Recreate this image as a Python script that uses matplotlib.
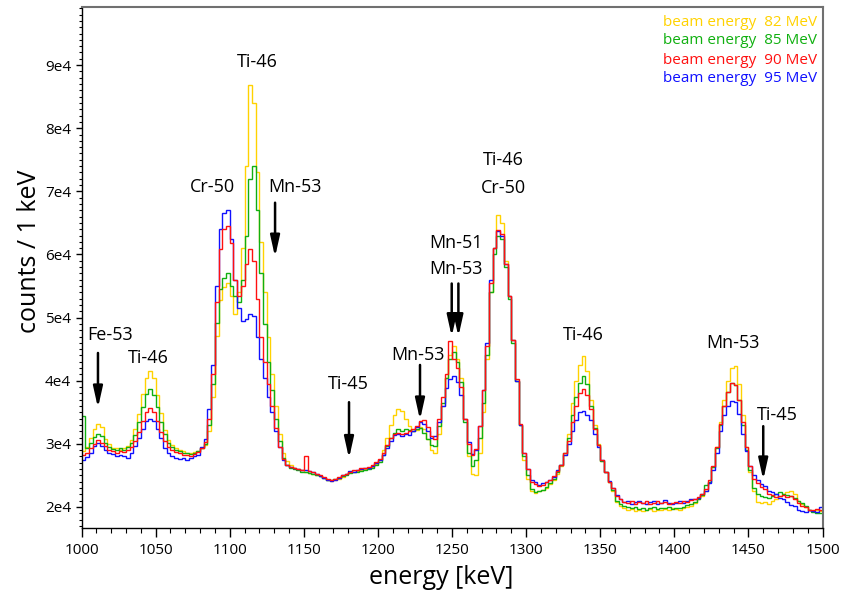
import numpy as np
import matplotlib
matplotlib.use("Agg")
import matplotlib.pyplot as plt
from matplotlib.ticker import MultipleLocator, FuncFormatter

plt.rcParams['font.family'] = ['Open Sans', 'DejaVu Sans']

# gamma spectra, 2.5 keV bins from 1000 to 1500 keV, counts in units of 1e3
bin_lo, bin_hi, bin_w = 1000, 1500, 2.5

counts_82 = [
    28.8, 29.5, 31.0, 32.4, 33.1, 32.6, 30.8, 29.9, 29.4, 29.3, 29.1, 29.4, 29.7, 30.6, 32.3, 34.8,
    37.9, 40.5, 41.5, 40.4, 37.8, 34.9, 32.2, 30.6, 29.8, 29.3, 29.0, 28.8, 28.6, 28.5, 28.7, 28.9,
    29.3, 29.8, 32.0, 37.5, 47.1, 52.8, 54.8, 55.5, 53.5, 50.5, 54.0, 61.0, 74.0, 86.8, 84.0, 73.0,
    62.0, 54.0, 47.0, 41.0, 36.0, 31.5, 28.5, 27.3, 26.6, 26.2, 26.0, 25.8, 25.6, 25.4, 25.2, 25.1,
    24.9, 24.6, 24.2, 24.1, 24.3, 24.5, 24.8, 25.2, 25.5, 25.5, 25.7, 25.8, 26.0, 26.1, 26.3, 26.8,
    27.5, 29.0, 31.0, 33.0, 34.5, 35.6, 35.2, 34.0, 32.8, 32.0, 32.2, 32.6, 32.3, 30.8, 29.0, 28.6,
    31.5, 36.0, 40.5, 44.0, 45.5, 43.5, 40.5, 34.0, 28.0, 25.3, 25.0, 28.5, 35.0, 43.5, 54.0, 61.0,
    66.3, 65.0, 59.0, 53.5, 46.5, 40.0, 33.0, 27.5, 24.5, 22.5, 22.2, 22.5, 22.7, 23.0, 23.6, 24.3,
    25.3, 26.5, 28.3, 31.5, 36.5, 40.0, 42.5, 43.9, 41.5, 37.0, 33.0, 30.0, 27.3, 25.5, 24.0, 22.5,
    20.8, 20.2, 19.8, 19.5, 19.7, 19.4, 19.6, 19.3, 19.5, 19.7, 19.4, 19.6, 19.5, 19.7, 19.6, 19.8,
    19.7, 19.5, 19.8, 20.0, 20.2, 20.6, 21.2, 21.8, 22.6, 24.0, 26.3, 29.5, 33.5, 37.0, 40.0, 42.0,
    42.3, 39.5, 34.5, 29.5, 25.5, 22.5, 20.8, 20.6, 20.8, 20.5, 20.9, 21.3, 21.8, 22.0, 22.4, 22.6,
    22.0, 21.0, 20.5, 20.0, 19.6, 19.4, 19.5, 19.4,
]

counts_85 = [
    34.4, 29.3, 30.2, 31.1, 31.6, 31.2, 30.1, 29.5, 29.2, 29.1, 29.3, 29.1, 29.5, 30.1, 31.4, 33.4,
    35.9, 37.9, 38.7, 37.8, 35.8, 33.5, 31.5, 30.2, 29.5, 29.1, 28.9, 28.6, 28.5, 28.4, 28.6, 28.9,
    29.4, 30.0, 33.0, 39.5, 49.2, 54.5, 56.2, 57.0, 55.0, 53.5, 52.4, 56.0, 63.0, 72.0, 74.0, 67.0,
    57.0, 49.0, 43.0, 38.5, 34.0, 30.5, 27.8, 26.6, 26.2, 26.0, 25.8, 25.6, 25.5, 25.4, 25.3, 25.1,
    24.9, 24.6, 24.3, 24.2, 24.4, 24.6, 24.9, 25.1, 25.4, 25.5, 25.6, 25.7, 25.9, 26.0, 26.2, 26.6,
    27.2, 28.3, 29.7, 31.0, 31.8, 32.3, 32.0, 32.4, 32.2, 32.0, 32.3, 32.5, 31.8, 30.8, 29.8, 29.6,
    32.8, 36.5, 40.5, 43.5, 44.5, 43.0, 39.8, 33.5, 28.5, 26.5, 27.5, 31.0, 36.5, 44.0, 54.0, 60.0,
    62.9, 62.5, 58.0, 53.0, 46.0, 40.0, 33.0, 28.0, 25.0, 22.8, 22.3, 22.5, 22.7, 23.2, 23.8, 24.4,
    25.5, 26.6, 28.5, 31.0, 34.5, 37.5, 39.7, 40.7, 39.5, 36.0, 32.5, 29.8, 27.3, 25.5, 24.0, 22.7,
    21.0, 20.5, 20.2, 20.0, 19.8, 20.0, 19.7, 19.9, 19.6, 19.8, 20.0, 19.7, 19.9, 19.8, 20.0, 19.7,
    19.9, 19.8, 20.0, 20.3, 20.5, 20.8, 21.3, 21.9, 23.5, 24.0, 26.3, 29.3, 33.0, 36.0, 38.2, 39.6,
    39.4, 37.0, 33.0, 29.0, 25.8, 23.0, 22.0, 21.7, 21.6, 21.5, 21.7, 22.0, 22.3, 22.1, 21.9, 21.8,
    21.5, 21.0, 20.6, 20.1, 19.6, 19.2, 19.1, 19.0,
]

counts_90 = [
    28.2, 28.6, 29.3, 30.0, 30.6, 30.2, 29.6, 29.0, 28.9, 28.6, 28.8, 28.7, 29.0, 29.5, 30.5, 31.9,
    33.6, 35.1, 35.7, 35.0, 33.7, 31.9, 30.4, 29.5, 29.0, 28.7, 28.5, 28.2, 28.3, 28.1, 28.4, 28.7,
    29.3, 30.3, 34.0, 41.0, 52.4, 60.8, 64.0, 64.5, 61.8, 56.0, 53.4, 55.0, 58.5, 60.8, 59.0, 53.0,
    47.0, 43.0, 39.5, 36.0, 32.5, 29.5, 27.6, 26.7, 26.3, 26.1, 26.0, 25.9, 28.0, 25.7, 25.5, 25.3,
    25.0, 24.7, 24.4, 24.3, 24.4, 24.7, 25.1, 25.2, 25.6, 25.8, 25.8, 26.1, 26.2, 26.4, 26.6, 27.1,
    27.6, 28.5, 29.8, 30.9, 31.5, 31.8, 31.6, 31.8, 32.0, 32.3, 32.8, 33.6, 33.8, 32.6, 31.3, 30.8,
    34.0, 37.5, 41.0, 46.3, 43.4, 42.0, 39.0, 34.0, 30.0, 28.3, 29.2, 32.8, 38.5, 45.5, 55.5, 61.0,
    63.9, 63.3, 58.5, 53.5, 46.5, 40.2, 33.2, 28.6, 26.0, 24.0, 23.7, 23.4, 23.5, 23.9, 24.3, 24.9,
    25.7, 26.7, 28.5, 30.5, 33.5, 36.0, 38.0, 38.7, 37.8, 35.5, 32.3, 29.8, 27.5, 25.6, 24.0, 23.0,
    21.8, 21.3, 20.8, 20.6, 20.9, 20.5, 20.8, 20.6, 20.9, 20.5, 20.7, 21.0, 20.6, 20.8, 20.5, 20.7,
    20.8, 20.6, 21.0, 20.8, 21.1, 21.3, 21.6, 22.1, 22.8, 24.2, 26.5, 29.5, 33.2, 36.0, 38.2, 39.6,
    39.3, 37.0, 33.5, 29.5, 26.5, 24.4, 23.8, 23.1, 22.8, 22.0, 21.9, 21.6, 21.8, 21.9, 21.6, 21.8,
    21.3, 20.6, 20.2, 20.0, 19.6, 19.5, 19.7, 19.6,
]

counts_95 = [
    27.5, 27.9, 28.6, 29.6, 30.2, 29.7, 29.0, 28.5, 28.4, 28.1, 28.3, 28.0, 27.8, 28.6, 29.6, 30.9,
    32.3, 33.6, 34.0, 33.6, 32.4, 30.9, 29.4, 28.6, 28.1, 27.8, 27.6, 27.7, 27.5, 27.8, 28.0, 28.3,
    29.5, 30.8, 35.5, 42.5, 55.0, 64.0, 66.5, 67.0, 62.5, 56.0, 51.5, 49.5, 49.8, 50.5, 50.2, 47.0,
    43.5, 40.5, 37.5, 35.0, 32.0, 29.5, 27.4, 26.6, 26.4, 26.2, 26.0, 25.9, 25.8, 25.7, 25.5, 25.2,
    24.9, 24.6, 24.3, 24.1, 24.3, 24.6, 25.0, 25.3, 25.7, 25.6, 25.9, 26.0, 26.2, 26.1, 26.5, 26.9,
    27.4, 28.2, 29.3, 30.5, 31.4, 31.6, 31.2, 31.5, 31.4, 32.0, 32.6, 33.4, 33.2, 32.0, 30.9, 31.2,
    33.5, 36.0, 38.8, 40.2, 40.7, 39.8, 37.8, 34.0, 30.3, 28.4, 29.0, 32.8, 38.5, 46.0, 56.0, 61.0,
    63.7, 63.0, 58.5, 53.5, 46.5, 40.0, 33.0, 28.5, 26.0, 24.3, 23.9, 23.5, 23.8, 24.0, 24.3, 24.8,
    25.8, 26.7, 28.2, 30.0, 32.0, 33.8, 35.0, 35.2, 34.6, 33.8, 31.6, 29.5, 27.4, 25.6, 24.1, 23.0,
    21.9, 21.2, 20.8, 20.9, 20.5, 20.8, 21.0, 20.6, 20.4, 20.8, 20.9, 20.5, 20.7, 21.1, 20.6, 20.5,
    20.7, 20.9, 20.6, 21.0, 21.2, 21.2, 21.5, 22.0, 22.6, 23.8, 25.8, 28.5, 32.0, 34.5, 36.0, 36.8,
    36.6, 34.8, 31.5, 28.8, 26.5, 25.0, 24.3, 23.6, 23.4, 22.6, 22.3, 22.0, 21.4, 21.2, 20.8, 20.3,
    20.1, 19.6, 19.4, 19.2, 19.5, 19.3, 19.2, 20.0,
]

beam_energies = [82, 85, 90, 95]
colors = ['#ffd200', '#10b010', '#ff1010', '#1010ff']

# peak labels (text, energy, counts/1e3)
peak_labels = [
    ('Fe-53', 1019.2, 47.2), ('Ti-46', 1044.9, 43.6), ('Cr-50', 1088.1, 70.7),
    ('Ti-46', 1118.5, 90.5), ('Mn-53', 1144.0, 70.7), ('Ti-45', 1179.9, 39.5),
    ('Mn-53', 1226.8, 44.0), ('Mn-51', 1252.4, 61.8), ('Mn-53', 1252.4, 57.7),
    ('Ti-46', 1284.4, 75.0), ('Cr-50', 1284.4, 70.5), ('Ti-46', 1338.4, 47.2),
    ('Mn-53', 1439.3, 45.9), ('Ti-45', 1469.6, 34.6),
]
# arrows (energy, tail, head) in counts/1e3
peak_arrows = [
    (1011.1, 44.4, 35.7), (1130.6, 68.2, 59.6), (1180.5, 36.6, 27.7),
    (1228.4, 42.5, 33.8), (1249.8, 55.4, 47.0), (1254.3, 55.4, 47.0),
    (1460.0, 32.8, 24.3),
]

fig = plt.figure(figsize=(8.43, 5.99), dpi=100)
ax = fig.add_axes([0.0967, 0.1185, 0.879, 0.8698])

edges = np.arange(bin_lo, bin_hi + bin_w / 2, bin_w)
# draw order: 82, 85, 95 then 90 on top
for idx in [0, 1, 3, 2]:
    vals = np.array([counts_82, counts_85, counts_90, counts_95][idx]) * 1e3
    ax.stairs(vals, edges, color=colors[idx], lw=1.0, baseline=None)

ax.set_xlim(1000, 1500)
ax.set_ylim(16670, 99200)

ax.xaxis.set_major_locator(MultipleLocator(50))
ax.xaxis.set_minor_locator(MultipleLocator(10))
ax.yaxis.set_major_locator(MultipleLocator(10000))
ax.yaxis.set_minor_locator(MultipleLocator(1000))
ax.yaxis.set_major_formatter(FuncFormatter(lambda v, p: f"{int(round(v / 1e4))}e4"))

ax.tick_params(axis='x', which='major', direction='out', length=6.5, width=1, pad=4, labelsize=11)
ax.tick_params(axis='x', which='minor', direction='out', length=3.5, width=0.8)
ax.tick_params(axis='y', which='major', direction='out', length=4.5, width=1, pad=3, labelsize=11)
ax.tick_params(axis='y', which='minor', direction='out', length=2.5, width=0.8)
ax.tick_params(top=False, right=False)

for s in ['left', 'bottom']:
    ax.spines[s].set_color('black')
    ax.spines[s].set_linewidth(1)
for s in ['top', 'right']:
    ax.spines[s].set_color('#707070')
    ax.spines[s].set_linewidth(1.5)

fig.text(30 / 843, 1 - 251 / 599, 'counts / 1 keV', rotation=90, fontsize=18,
         ha='center', va='center')
fig.text(441 / 843, 1 - 578 / 599, 'energy [keV]', fontsize=18, ha='center', va='center')

for txt, e, c in peak_labels:
    ax.text(e, c * 1e3, txt, fontsize=13, ha='center', va='center', color='black')

for e, c0, c1 in peak_arrows:
    ax.annotate('', xy=(e, c1 * 1e3), xytext=(e, c0 * 1e3),
                arrowprops=dict(arrowstyle='-|>,head_length=0.9,head_width=0.2',
                                lw=1.8, color='black', shrinkA=0, shrinkB=0,
                                mutation_scale=14))

# legend as coloured text, right aligned
leg_y = [22.7, 40.7, 60.0, 79.0]
for be, col, yy in zip(beam_energies, colors, leg_y):
    fig.text(817 / 843, 1 - yy / 599, f'beam energy  {be} MeV', color=col,
             fontsize=11, ha='right', va='center')

fig.savefig('out.png', dpi=100)
